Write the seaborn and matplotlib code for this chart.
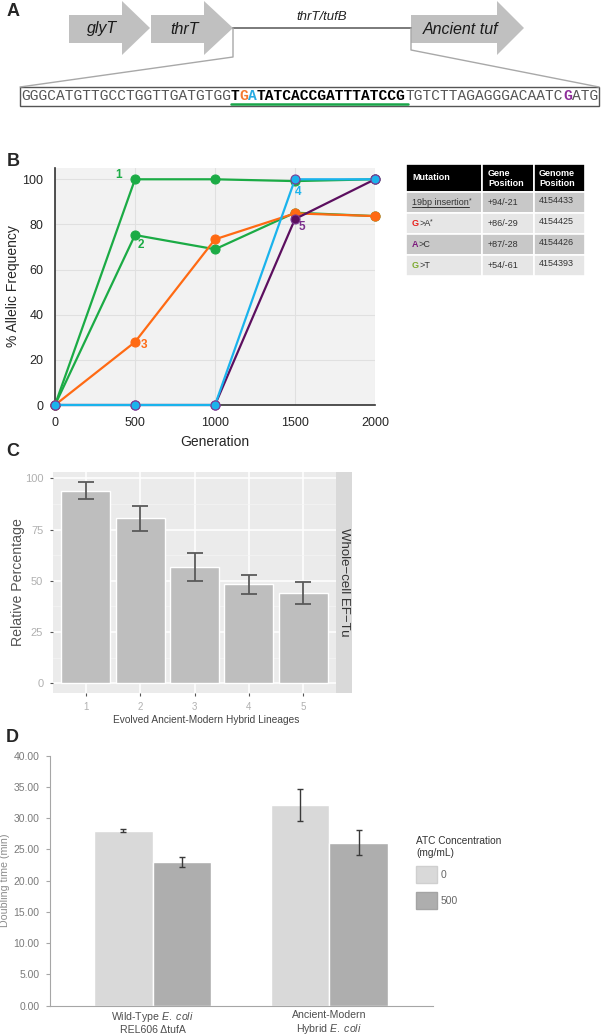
import numpy as np
import pandas as pd
import matplotlib
matplotlib.use('Agg')
import matplotlib.pyplot as plt
import seaborn as sns
from matplotlib.patches import Polygon, Rectangle, Patch

W, H = 603, 1035

# panel B - allelic frequency over generations
generations = [0, 500, 1000, 1500, 2000]
mut1 = [0, 100, 100, 99.2, 100]
mut2 = [0, 75.3, 69.0, 85.2, 83.7]
mut3 = [0, 27.9, 73.4, 84.9, 83.7]
mut4 = [0, 0, 0, 100, 100]
mut5 = [0, 0, 0, 82.4, 100]

# mutation table
mut_names = ['19bp insertion', 'G>A', 'A>C', 'G>T']
mut_colors = ['#333333', '#e8201c', '#7d1b7e', '#7daa2f']
mut_star = [True, True, False, False]
gene_pos = ['+94/-21', '+86/-29', '+87/-28', '+54/-61']
genome_pos = ['4154433', '4154425', '4154426', '4154393']

# panel C - whole-cell EF-Tu
lineages = ['1', '2', '3', '4', '5']
ef_tu = [93.9, 80.5, 56.6, 48.3, 44.0]
ef_tu_err = [4.1, 6.0, 6.7, 4.6, 5.4]

# panel D - doubling time
strains = ['Wild-Type $\\it{E.\\ coli}$\nREL606 \u0394tufA',
           'Ancient-Modern\nHybrid $\\it{E.\\ coli}$']
atc_levels = ['0', '500']
doubling_0 = [28.0, 32.05]
doubling_500 = [23.0, 26.1]
err_0 = [0.2, 2.55]
err_500 = [0.8, 2.0]

sns.set_style('white')
plt.rcParams['font.family'] = ['Liberation Sans', 'DejaVu Sans']
plt.rcParams['mathtext.fontset'] = 'custom'
plt.rcParams['mathtext.it'] = 'Liberation Sans:italic'
plt.rcParams['mathtext.rm'] = 'Liberation Sans'


def px_rect(x0, y0, x1, y1):
    # pixel box (top-left origin) -> figure fraction rect
    return [x0 / W, 1 - y1 / H, (x1 - x0) / W, (y1 - y0) / H]


fig = plt.figure(figsize=(W / 100, H / 100), dpi=100)
ov = fig.add_axes([0, 0, 1, 1])
ov.set_xlim(0, W)
ov.set_ylim(H, 0)
ov.axis('off')

# panel letters
for letter, (lx, ly) in zip('ABCD', [(13, 12), (13, 161), (13, 452), (12, 737)]):
    ov.text(lx, ly, letter, fontsize=13, fontweight='bold', ha='center', va='center')


# ---- panel A: gene map + sequence ----
def gene_arrow(x0, xh, xt, label):
    pts = [(x0, 15), (xh, 15), (xh, 1), (xt, 28), (xh, 55), (xh, 43), (x0, 43)]
    ov.add_patch(Polygon(pts, closed=True, fc='#c0c0c0', ec='none'))
    ov.text((x0 + xt) / 2 - 7, 29, label, style='italic', fontsize=11.5,
            ha='center', va='center', color='#1a1a1a')


gene_arrow(69, 122, 150, 'glyT')
gene_arrow(151, 204, 233, 'thrT')
gene_arrow(411, 497, 524, 'Ancient tuf')
ov.plot([233, 411], [28, 28], color='#7a7a7a', lw=1.4)
ov.text(322, 17, 'thrT/tufB', style='italic', fontsize=9.5, ha='center', va='center', color='#222')
ov.plot([233, 233, 20], [28, 57, 87], color='#a8a8a8', lw=1)
ov.plot([411, 411, 599], [28, 50, 87], color='#a8a8a8', lw=1)
ov.add_patch(Rectangle((19.5, 87), 579.5, 19, fc='white', ec='#555555', lw=1))

seq_parts = [('GGGCATGTTGCCTGGTTGATGTGG', '#555555', 'normal'),
             ('T', 'black', 'bold'), ('G', '#f47a30', 'bold'), ('A', '#29abe2', 'bold'),
             ('TATCACCGATTTATCCG', 'black', 'bold'),
             ('TGTCTTAGAGGGACAATC', '#555555', 'normal'),
             ('G', '#8e2f9a', 'bold'), ('ATG', '#555555', 'normal')]
adv = 8.74
pos = 0
for txt, col, wt in seq_parts:
    ov.text(21 + pos * adv, 96.5, txt, family='Liberation Mono', fontsize=10.5,
            color=col, fontweight=wt, ha='left', va='center')
    pos += len(txt)
ov.plot([231, 408], [104, 104], color='#1aa64a', lw=1.8)

# ---- mutation table ----
col_x = [406, 482, 534, 585]
row_y = [164, 192, 213, 234, 255, 276]
row_fill = ['black', '#c8c8c8', '#e6e6e6', '#c8c8c8', '#e6e6e6']
for r in range(5):
    for c in range(3):
        ov.add_patch(Rectangle((col_x[c], row_y[r]), col_x[c + 1] - col_x[c],
                               row_y[r + 1] - row_y[r], fc=row_fill[r], ec='white', lw=1.2))
hdr = dict(color='white', fontweight='bold', fontsize=6.5, va='center', ha='left')
ov.text(412, 178, 'Mutation', **hdr)
ov.text(488, 178.5, 'Gene\nPosition', **hdr)
ov.text(539, 178.5, 'Genome\nPosition', **hdr)
cell = dict(color='#333333', fontsize=6.5, va='center', ha='left')
for i, name in enumerate(mut_names):
    yc = (row_y[i + 1] + row_y[i + 2]) / 2
    if i == 0:
        t = ov.text(412, yc, name, **cell)
        ov.plot([412, 469], [yc + 4.5, yc + 4.5], color='#333333', lw=0.7)
    else:
        t0 = ov.text(412, yc, name[0], color=mut_colors[i], fontweight='bold',
                     fontsize=6.5, va='center', ha='left')
        t = ov.annotate(name[1:], xy=(1, 0), xycoords=t0, va='bottom', ha='left',
                        color='#333333', fontsize=6.5)
    if mut_star[i]:
        ov.annotate('*', xy=(1, 0.3), xycoords=t, va='bottom', ha='left',
                    color='#333333', fontsize=5)
    ov.text(488, yc, gene_pos[i], **cell)
    ov.text(539, yc - 2, genome_pos[i], **cell)

# ---- panel B: allelic frequency ----
axB = fig.add_axes(px_rect(55, 168, 375, 405))
axB.set_facecolor('#f2f2f2')
series = [(mut1, '#1bab45', '#1bab45'), (mut2, '#1bab45', '#1bab45'),
          (mut3, '#ff6a13', '#ff6a13'), (mut5, '#5c0f5f', '#7b3a93'),
          (mut4, '#1ab3ec', '#7b3a93')]
for vals, col, edge in series:
    sns.lineplot(x=generations, y=vals, color=col, marker='o', markersize=6.5,
                 markeredgecolor=edge, markeredgewidth=0.8, linewidth=1.6,
                 ax=axB, clip_on=False, zorder=3)
axB.set_xlim(0, 2000)
axB.set_ylim(0, 105)
axB.set_xticks(generations)
axB.set_yticks([0, 20, 40, 60, 80, 100])
axB.grid(True, color='#e0e0e0', lw=0.8)
axB.set_axisbelow(True)
for s in ['top', 'right']:
    axB.spines[s].set_visible(False)
for s in ['left', 'bottom']:
    axB.spines[s].set_color('#333333')
    axB.spines[s].set_linewidth(1.2)
axB.tick_params(direction='in', length=4, color='#333333', labelsize=9, pad=8.5)
labels_B = [('1', 500, 100, (-12, 3), '#1bab45'), ('2', 500, 75.3, (4.3, -7.5), '#1bab45'),
            ('3', 500, 27.9, (6.5, -2), '#ff6a13'), ('4', 1500, 100, (2.4, -9), '#1ab3ec'),
            ('5', 1500, 82.4, (5, -6), '#7b2f8e')]
for lab, gx, gy, off, col in labels_B:
    axB.annotate(lab, xy=(gx, gy), xytext=off, textcoords='offset points', ha='center',
                 va='center', color=col, fontsize=8.5, fontweight='bold', zorder=5)
ov.text(13, 286, '% Allelic Frequency', rotation=90, fontsize=10, ha='center', va='center')
ov.text(215, 441.5, 'Generation', fontsize=10, ha='center', va='center')

# ---- panel C: EF-Tu (ggplot look) ----
axC = fig.add_axes(px_rect(53.3, 471.7, 335.8, 693.3))
axC.set_facecolor('#ebebeb')
sns.barplot(x=lineages, y=ef_tu, color='#bebebe', width=0.9, saturation=1,
            ax=axC, zorder=2)
axC.errorbar(np.arange(len(lineages)), ef_tu, yerr=ef_tu_err, fmt='none',
             ecolor='#5a5a5a', elinewidth=1.3, capsize=6, capthick=1.3, zorder=3)
axC.set_xlim(-0.6, 4.6)
axC.set_ylim(-4.9, 103.2)
axC.set_yticks([0, 25, 50, 75, 100])
axC.set_yticks([12.5, 37.5, 62.5, 87.5], minor=True)
axC.grid(True, which='major', color='white', lw=1.1)
axC.grid(True, which='minor', axis='y', color='#f5f5f5', lw=0.5)
axC.set_axisbelow(True)
for s in axC.spines.values():
    s.set_visible(False)
axC.tick_params(axis='both', which='major', length=2.2, color='#555555',
                labelcolor='#b0b0b0', bottom=True, left=True)
axC.tick_params(axis='y', labelsize=8, pad=5)
axC.tick_params(axis='x', labelsize=7, pad=4)
axC.tick_params(which='minor', length=0)
axC.set_xlabel('')
axC.set_ylabel('')
stripC = fig.add_axes(px_rect(335.8, 471.7, 352, 693.3))
stripC.set_facecolor('#d9d9d9')
stripC.set_xticks([])
stripC.set_yticks([])
for s in stripC.spines.values():
    s.set_visible(False)
stripC.text(0.5, 0.5, 'Whole\u2212cell EF\u2212Tu', rotation=-90, fontsize=9.5,
            color='#333333', ha='center', va='center', transform=stripC.transAxes)
ov.text(18, 582.5, 'Relative Percentage', rotation=90, fontsize=10.2, color='#555555',
        ha='center', va='center')
ov.text(206, 720, 'Evolved Ancient-Modern Hybrid Lineages', fontsize=7.3, color='#444444',
        ha='center', va='center')

# ---- panel D: doubling time ----
axD = fig.add_axes(px_rect(50, 755.7, 433, 1005.7))
d_df = pd.DataFrame({'strain': strains * 2,
                     'atc': [atc_levels[0]] * 2 + [atc_levels[1]] * 2,
                     'time': doubling_0 + doubling_500})
sns.barplot(data=d_df, x='strain', y='time', hue='atc', palette=['#d9d9d9', '#aeaeae'],
            width=0.663, gap=0, saturation=1, errorbar=None, ax=axD, legend=False)
for cont, errs in zip(axD.containers, [err_0, err_500]):
    xs = [b.get_x() + b.get_width() / 2 for b in cont]
    ys = [b.get_height() for b in cont]
    axD.errorbar(xs, ys, yerr=errs, fmt='none', ecolor='#3a3a3a', elinewidth=1,
                 capsize=2.5, capthick=1)
axD.set_xlim(-0.58, 1.586)
axD.set_ylim(0, 40)
axD.set_yticks(np.arange(0, 41, 5))
axD.set_yticklabels(['%.2f' % v for v in np.arange(0, 41, 5)])
for s in ['top', 'right']:
    axD.spines[s].set_visible(False)
for s in ['left', 'bottom']:
    axD.spines[s].set_color('#a6a6a6')
    axD.spines[s].set_linewidth(0.8)
axD.tick_params(axis='y', direction='out', length=3, color='#a6a6a6', labelsize=7.5,
                labelcolor='#7a7a7a', pad=4.5, left=True)
axD.tick_params(axis='x', length=0, labelsize=7.6, labelcolor='#4d4d4d', pad=3)
axD.set_xlabel('')
axD.set_ylabel('')
ov.text(5, 880, 'Doubling time (min)', rotation=90, fontsize=7.7, color='#8c8c8c',
        ha='center', va='center')
handles = [Patch(fc='#d9d9d9', ec='#cfcfcf'), Patch(fc='#aeaeae', ec='#a4a4a4')]
leg = axD.legend(handles, atc_levels, title='ATC Concentration\n(mg/mL)', frameon=False,
                 loc='upper left', bbox_to_anchor=(416 / W, 1 - 836 / H),
                 bbox_transform=fig.transFigure, fontsize=7.5, title_fontsize=7.3,
                 handlelength=2.0, handleheight=2.2, handletextpad=0.4,
                 labelspacing=0.8, borderpad=0, borderaxespad=0, alignment='left')
for txt in leg.get_texts():
    txt.set_color('#666666')
leg.get_title().set_color('#333333')

fig.savefig('out.png', dpi=100)
